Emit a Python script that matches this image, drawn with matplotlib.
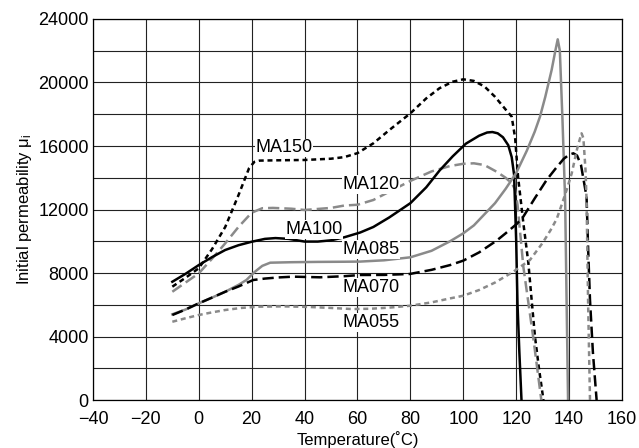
import numpy as np
import matplotlib
matplotlib.use("Agg")
import matplotlib.pyplot as plt

plt.rcParams["font.family"] = ["Liberation Sans", "DejaVu Sans"]
plt.rcParams["mathtext.fontset"] = "custom"
plt.rcParams["mathtext.rm"] = "Liberation Sans"
plt.rcParams["mathtext.it"] = "Liberation Sans"

# --- data ---
ma150_t = [-10, -5, 0, 5, 10, 15, 19, 21, 23, 30, 40, 50, 55, 60, 66, 72, 80, 86, 91, 96,
           100, 104, 108, 112, 116, 118.3, 119.6, 120.7, 122.7, 124.6, 126, 127.1, 128.6, 130.3]
ma150_mu = [7140, 7700, 8300, 9500, 10900, 12900, 14600, 15000, 15080, 15100, 15120, 15200,
            15300, 15550, 16170, 17000, 18060, 19000, 19640, 20050, 20200, 20100, 19750, 19100,
            18300, 17850, 16500, 14070, 11150, 8630, 6000, 3990, 2000, 0]

ma120_t = [-10, -5, 0, 5, 10, 15, 20, 24, 28, 35, 40, 50, 55, 60, 66, 72, 80, 88, 95, 100,
           104, 108, 112.6, 116, 118.3, 119.5, 120.5, 121.4, 122.7, 124.5, 126.4, 129.5]
ma120_mu = [6820, 7400, 7980, 8900, 9870, 10900, 11800, 12080, 12100, 12050, 11970, 12100,
            12250, 12300, 12600, 13120, 13800, 14400, 14740, 14880, 14910, 14800, 14380, 14000,
            13650, 13300, 12300, 10710, 8400, 6260, 3990, 0]

ma100_t = [-10, -5, 0, 5, 10, 15, 20, 25, 29, 34, 40, 45, 50, 55, 61, 66, 72, 80, 86, 91, 96,
           101, 106, 109, 111, 113, 115, 117, 118.3, 119.2, 120, 120.5, 121.2, 122]
ma100_mu = [7450, 7950, 8500, 9000, 9450, 9750, 9970, 10150, 10200, 10150, 9980, 9980, 10060,
            10250, 10550, 10900, 11500, 12400, 13400, 14450, 15350, 16150, 16650, 16850, 16880,
            16800, 16550, 16050, 15300, 14200, 10000, 6000, 3000, 0]

ma085_t = [-10, -5, 0, 5, 10, 15, 18, 21, 24, 27, 35, 45, 55, 61, 70, 80, 88, 95, 100, 104,
           108, 112, 116, 120, 124, 127, 129, 131, 133.4, 134.8, 135.7, 136.5, 137.5, 138.5, 139.6]
ma085_mu = [5400, 5700, 6090, 6450, 6820, 7250, 7560, 8050, 8450, 8650, 8680, 8700, 8710, 8720,
            8800, 8990, 9400, 10000, 10500, 11000, 11700, 12400, 13300, 14300, 15700, 16900,
            17850, 19100, 20790, 22000, 22720, 22000, 17640, 12600, 0]

ma070_t = [-10, -5, 0, 5, 10, 15, 20.6, 25, 30, 35.7, 45.8, 55, 61, 70, 79.8, 88, 95, 100, 106,
           112.6, 116, 120.2, 122.7, 127, 131.5, 135, 138, 140, 141.6, 143, 144.5, 146.6, 147.2,
           147.9, 149, 150.4]
ma070_mu = [5355, 5700, 6090, 6450, 6820, 7150, 7560, 7650, 7720, 7770, 7730, 7800, 7875, 7880,
            7940, 8200, 8500, 8780, 9300, 10040, 10500, 11090, 11550, 12700, 13860, 14600, 15200,
            15450, 15540, 15400, 14800, 12800, 9500, 6300, 3000, 0]

ma055_t = [-10, -5, 0, 5, 10, 16, 23, 32, 42, 50, 58, 65, 72, 80, 88, 95, 100, 106, 112, 118.9,
           125.2, 130, 133, 135.3, 137.2, 139, 141, 143, 144, 144.7, 145.4, 146.2, 146.6, 147.2,
           147.9]
ma055_mu = [4930, 5150, 5355, 5520, 5670, 5800, 5880, 5900, 5860, 5800, 5730, 5750, 5820, 5940,
            6150, 6400, 6570, 6930, 7400, 8080, 8820, 9900, 10700, 11400, 12300, 13200, 14280,
            15800, 16400, 16800, 16500, 14500, 12600, 6000, 0]

labels = ["MA150", "MA120", "MA100", "MA085", "MA070", "MA055"]
label_t = [32.2, 65.1, 43.6, 65.1, 65.1, 65.1]
label_mu = [15880, 13580, 10740, 9480, 7090, 4880]

# --- plot ---
fig = plt.figure(figsize=(6.39, 4.48), dpi=100)
ax = fig.add_axes([0.1455, 0.1071, 0.8279, 0.8505])

gray = "#8a8a8a"
lw = 1.8
ax.plot(ma150_t, ma150_mu, color="black", lw=lw, dashes=(2.0, 1.5))
ax.plot(ma120_t, ma120_mu, color=gray, lw=lw, dashes=(4.5, 2.0))
ax.plot(ma100_t, ma100_mu, color="black", lw=lw)
ax.plot(ma085_t, ma085_mu, color=gray, lw=lw)
ax.plot(ma070_t, ma070_mu, color="black", lw=lw, dashes=(4.5, 2.0))
ax.plot(ma055_t, ma055_mu, color=gray, lw=lw, dashes=(2.0, 1.5))

for name, t, mu in zip(labels, label_t, label_mu):
    ax.text(t, mu, name, fontsize=13, ha="center", va="center", zorder=5,
            bbox=dict(facecolor="white", edgecolor="none", pad=0.5))

ax.set_xlim(-40, 160)
ax.set_ylim(0, 24000)
ax.set_xticks(np.arange(-40, 161, 20))
ax.set_yticks(np.arange(0, 24001, 4000))
ax.set_yticks(np.arange(0, 24001, 2000), minor=True)
ax.set_xticklabels(["\u221240", "\u221220"] + [str(v) for v in range(0, 161, 20)])
ax.grid(True, which="both", color="#222222", lw=0.8)
ax.set_axisbelow(True)
ax.tick_params(which="both", length=0, labelsize=13)
ax.tick_params(axis="x", pad=8)
ax.tick_params(axis="y", pad=3)
for s in ax.spines.values():
    s.set_color("black")
    s.set_linewidth(0.9)

ax.set_xlabel("Temperature(\u02daC)", fontsize=12, labelpad=2)
ax.set_ylabel("Initial permeability \u03bc$_{\\rm i}$", fontsize=12, labelpad=3)

plt.savefig("out.png", dpi=100)
